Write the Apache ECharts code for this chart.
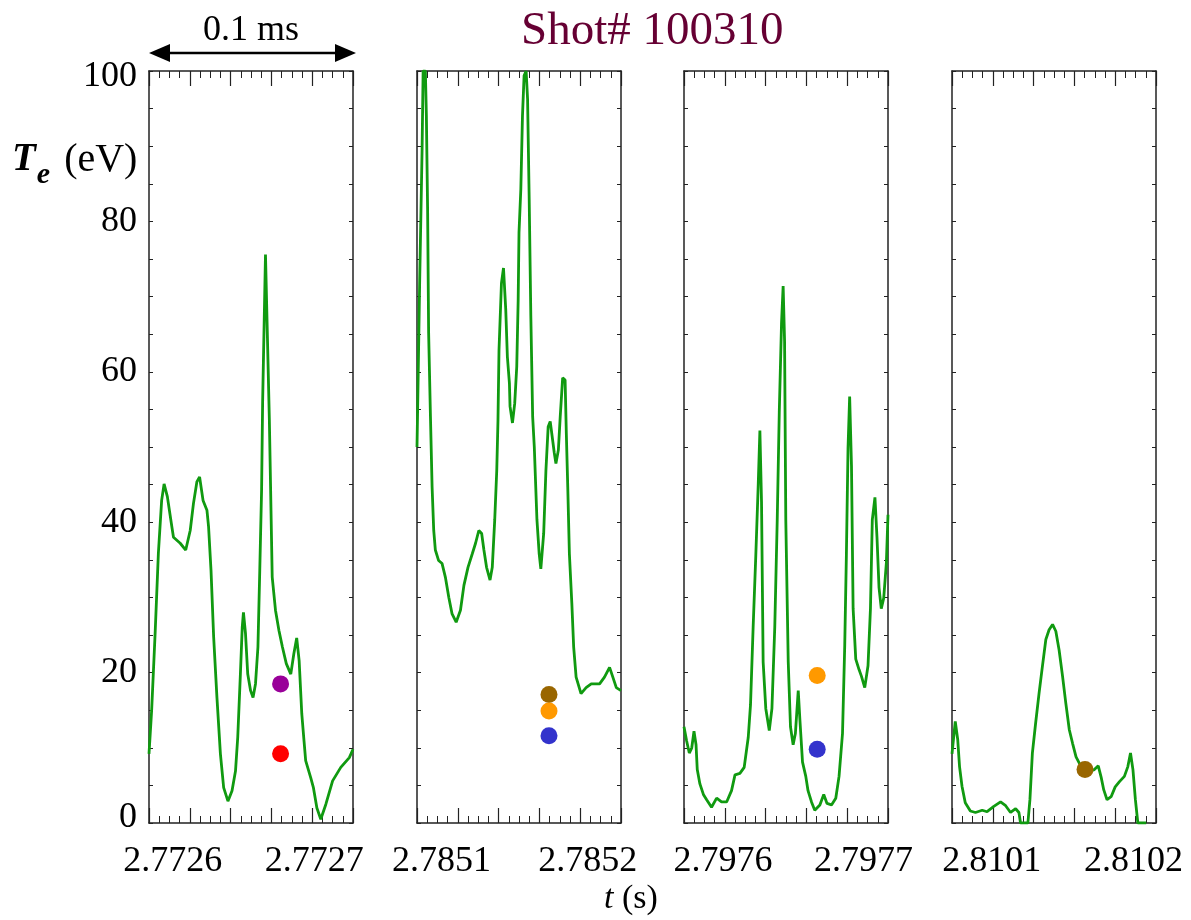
<!DOCTYPE html>
<html>
<head>
<meta charset="utf-8">
<script src="https://cdn.jsdelivr.net/npm/echarts@6/dist/echarts.min.js"></script>
<style>
  html, body { margin: 0; padding: 0; background: #fff; }
  #container { width: 1191px; height: 920px; }
</style>
</head>
<body>
<div id="container"></div>
<script>
// Te traces: time in µs from the start of each 0.1 ms window, Te in eV
const t1 = [0, 1.3, 3, 4.6, 6.2, 7.4, 9, 11.2, 12, 15.3, 18, 20.2, 21.8, 23.5, 24.8, 26.5, 28.4, 29.2, 30.4, 31.7, 33.3, 35, 36.6, 38.7, 40.7, 42.4, 43.5, 44.8, 45.7, 46.3, 47.3, 48.4, 49.8, 51, 52.2, 53.4, 54.3, 55.2, 55.7, 57.1, 59, 60.4, 62, 63.7, 65.4, 67.3, 69.5, 71, 72.4, 73.6, 74.9, 76, 76.8, 79.3, 80.6, 82.3, 84.2, 86.7, 90, 94, 98.2, 100];
const te1 = [9.2, 15, 25.2, 35.9, 42.9, 45.1, 43.4, 39.4, 38, 37.2, 36.3, 38.9, 42.5, 45.4, 46, 42.9, 41.6, 39.4, 33.6, 24.7, 16.7, 9.2, 4.7, 2.9, 4.3, 6.9, 11.4, 19.8, 26, 28, 25.2, 19.8, 17.6, 16.7, 18.5, 23.4, 33.6, 44.4, 56, 75.6, 53.6, 32.7, 28.3, 25.6, 23.4, 21.2, 19.8, 22.5, 24.6, 21.6, 14.5, 10.9, 8.3, 6, 4.7, 2, 0.5, 2.5, 5.6, 7.4, 8.7, 9.8];

const t2 = [0, 0.3, 1.3, 2.5, 3, 4.1, 4.6, 5.2, 5.7, 6.6, 7.4, 8.2, 9, 10.6, 12.3, 13.9, 15.6, 17.2, 19.2, 21.3, 23, 25, 27.1, 28.7, 30.3, 31.7, 32.8, 34.1, 35.8, 36.9, 38.1, 39.1, 39.7, 40.2, 41.4, 42.4, 43.5, 44.3, 45.3, 45.6, 46.8, 47.9, 48.9, 49.6, 50, 50.9, 51.7, 52.5, 53.5, 54.2, 55, 55.8, 56.7, 57.5, 58.8, 59.9, 60.7, 62.1, 63.2, 64.3, 65.3, 66.5, 67.3, 68.1, 69.3, 70.2, 71.4, 72.6, 73.2, 73.9, 74.7, 75.9, 76.8, 78, 80.4, 82.9, 85.4, 89.5, 91.9, 94.4, 96, 97.7, 100];
const te2 = [50, 54.9, 71.8, 89.6, 100, 100, 94, 81.6, 65.2, 54, 44.7, 38.9, 36.3, 34.9, 34.5, 32.7, 30, 27.8, 26.7, 28.3, 31.6, 34, 35.8, 37.2, 38.9, 38.5, 36.3, 34, 32.3, 34, 40.3, 46.9, 53.6, 62.9, 71.8, 73.8, 68.3, 62, 58.5, 55.4, 53.2, 55.8, 60.7, 69.6, 78.5, 84.3, 94, 99.4, 100, 96.3, 82.9, 67.4, 54, 50, 40.3, 35.8, 33.8, 38.5, 46.9, 52.7, 53.4, 50.9, 49.2, 47.8, 49.6, 54, 59.2, 58.9, 51.8, 44.7, 35.8, 29.2, 23.4, 19.4, 17.2, 18, 18.5, 18.5, 19.4, 20.7, 19.4, 18, 17.6];

const t3 = [0, 1.3, 2.6, 3.8, 4.9, 5.9, 6.5, 7.8, 9.5, 11.1, 13.5, 16, 18.4, 20.9, 23.3, 25, 27.4, 29.5, 31.5, 32.6, 33.9, 35.2, 36.4, 37.2, 38, 38.8, 40.1, 41.8, 43.1, 44.5, 45.7, 46.7, 47.8, 48.6, 49.3, 49.9, 51.1, 52.2, 53.5, 54.6, 56, 56.8, 58.1, 59.7, 60.8, 62.5, 64.1, 66.6, 68.5, 70.1, 72.3, 74.4, 76, 77.7, 78.8, 79.6, 80.4, 81.2, 82.1, 82.9, 84.2, 85.8, 87, 88.6, 90.2, 91.4, 92.3, 93.6, 94.6, 95.6, 96.7, 97.9, 99.2, 100];
const te3 = [12.8, 10.9, 9.3, 10, 12.2, 10.4, 7.1, 5.2, 3.8, 3.1, 2.1, 3.3, 2.8, 2.8, 4.3, 6.4, 6.6, 7.4, 11.4, 15.7, 26.1, 35.6, 45.1, 52.2, 42.7, 21.4, 15.2, 12.3, 15.2, 26.1, 40.3, 54.6, 66.4, 71.4, 64.1, 40.3, 21.4, 12.8, 10.4, 11.9, 17.6, 13.8, 8.1, 6.2, 4.3, 2.8, 1.7, 2.4, 3.8, 2.6, 2.4, 3.3, 6.2, 11.9, 23.7, 35.6, 49.8, 56.7, 47.5, 28.5, 21.8, 20.4, 19.5, 18, 20.9, 28.5, 40.3, 43.3, 38, 31.3, 28.5, 29.9, 34.6, 41];

const t4 = [0, 1.6, 2.8, 3.7, 4.9, 6.5, 9, 11.5, 14.8, 17.2, 20.5, 23.8, 26.3, 28.7, 31.2, 32.8, 33.6, 37.2, 38.2, 39.4, 41, 42.7, 44.3, 46, 47.6, 49.3, 50.9, 52.5, 54.2, 55.8, 57.5, 59.1, 60.8, 62.9, 66.5, 69.8, 71.7, 73.1, 74.4, 76, 78, 80, 82.1, 84.5, 86.2, 87.5, 88.7, 89.9, 91.1, 95.2];
const te4 = [9.2, 13.5, 11.1, 7.5, 4.9, 2.7, 1.6, 1.4, 1.7, 1.5, 2.2, 2.8, 2.3, 1.4, 1.9, 1.4, 0, 0, 3.1, 9.3, 13.3, 17.3, 20.8, 24.4, 25.7, 26.4, 25.5, 23, 19.5, 15.9, 12.4, 10.6, 8.8, 7.7, 6.8, 7.1, 7.6, 6.1, 4.4, 3.1, 3.5, 4.8, 5.5, 6.2, 7.5, 9.3, 7.1, 3.1, 0, 0];

// point measurements (other diagnostics), per window
const dotT = [[64.5, 64.5], [64.7, 64.7, 64.7], [65.3, 65.3], [65.2]];
const dotTe = [[18.5, 9.2], [17.1, 14.9, 11.6], [19.6, 9.8], [7.1]];
const dotChannel = [['purple', 'red'], ['brown', 'orange', 'blue'], ['orange', 'blue'], ['brown']];

const tickLabels = [['2.7726', '2.7727'], ['2.7851', '2.7852'], ['2.7976', '2.7977'], ['2.8101', '2.8102']];

const traces = [[t1, te1], [t2, te2], [t3, te3], [t4, te4]];

// layout / style
const serif = 'Liberation Serif';
const green = '#109a10';
const frame = '#222';
const channelColor = { purple: '#990099', red: '#ff0000', brown: '#996600', orange: '#ff9900', blue: '#3333cc' };
const gridLeft = [149, 417, 684, 952];
const labelAt = [[11.6, 81], [12, 83.7], [19.1, 88], [19.5, 89]];

const chart = echarts.init(document.getElementById('container'));

const grid = [], xAxis = [], yAxis = [], series = [];

gridLeft.forEach((left, i) => {
	grid.push({ left: left, top: 71, width: 204, height: 752, outerBoundsMode: 'none' });

	const xCommon = {
		gridIndex: i, type: 'value', min: 0, max: 100, interval: 20,
		axisLine: { show: true, onZero: false, lineStyle: { color: frame, width: 1.5 } },
		axisTick: { show: true, inside: true, length: 15, lineStyle: { color: frame, width: 1.2 } },
		minorTick: { show: true, splitNumber: 4, length: 7, lineStyle: { color: frame, width: 1 } },
		splitLine: { show: false },
	};
	xAxis.push(Object.assign({}, xCommon, {
		position: 'bottom',
		axisLabel: {
			show: true,
			customValues: labelAt[i],
			formatter: (v) => tickLabels[i][labelAt[i].indexOf(v)],
			fontFamily: serif, fontSize: 36, color: '#000', margin: 21,
		},
	}));
	xAxis.push(Object.assign({}, xCommon, { position: 'top', axisLabel: { show: false } }));

	const yCommon = {
		gridIndex: i, type: 'value', min: 0, max: 100, interval: 20,
		axisLine: { show: true, onZero: false, lineStyle: { color: frame, width: 1.5 } },
		axisTick: { show: true, inside: true, length: 4, lineStyle: { color: frame, width: 1 } },
		minorTick: { show: true, splitNumber: 4, length: 4, lineStyle: { color: frame, width: 1 } },
		splitLine: { show: false },
	};
	yAxis.push(Object.assign({}, yCommon, {
		position: 'left',
		axisLabel: {
			show: i === 0, fontFamily: serif, fontSize: 36, color: '#000', margin: 12,
			// end labels sit slightly inside the frame, as in the original
			formatter: (v) => v === 100 ? '{hi|' + v + '}' : v === 0 ? '{lo|' + v + '}' : String(v),
			rich: {
				hi: { fontFamily: serif, fontSize: 36, color: '#000', padding: [12, 0, 0, 0] },
				lo: { fontFamily: serif, fontSize: 36, color: '#000', padding: [0, 0, 10, 0] },
			},
		},
	}));
	yAxis.push(Object.assign({}, yCommon, { position: 'right', axisLabel: { show: false } }));

	const [ts, tes] = traces[i];
	series.push({
		type: 'line', xAxisIndex: 2 * i, yAxisIndex: 2 * i,
		data: ts.map((t, k) => [t, tes[k]]),
		showSymbol: false, symbol: 'none', clip: true,
		lineStyle: { color: green, width: 2.8 },
		z: 2,
	});
	series.push({
		type: 'scatter', xAxisIndex: 2 * i, yAxisIndex: 2 * i,
		symbolSize: 17,
		data: dotT[i].map((t, k) => ({ value: [t, dotTe[i][k]], itemStyle: { color: channelColor[dotChannel[i][k]], opacity: 1 } })),
		z: 3,
	});
});

chart.setOption({
	animation: false,
	backgroundColor: '#fff',
	title: {
		text: 'Shot# 100310', left: 521, top: 8, padding: 0,
		textStyle: { fontFamily: serif, fontSize: 47, fontWeight: 'normal', color: '#660033' },
	},
	grid, xAxis, yAxis, series,
});

// 0.1 ms scale arrow over the first panel, plus axis titles
const xa = chart.convertToPixel({ xAxisIndex: 0 }, 0);
const xb = chart.convertToPixel({ xAxisIndex: 0 }, 100);
const yTop = chart.convertToPixel({ yAxisIndex: 0 }, 100);
const ya = yTop - 18;
const head = 21, half = 9;

chart.setOption({
	graphic: [
		{ type: 'line', shape: { x1: xa + head - 2, y1: ya, x2: xb - head + 4, y2: ya }, style: { stroke: '#000', lineWidth: 2.3 } },
		{ type: 'polygon', shape: { points: [[xa, ya], [xa + head, ya - half], [xa + head, ya + half]] }, style: { fill: '#000' } },
		{ type: 'polygon', shape: { points: [[xb + 3, ya], [xb + 3 - head, ya - half], [xb + 3 - head, ya + half]] }, style: { fill: '#000' } },
		{ type: 'text', x: (xa + xb) / 2, y: ya - 4, style: { text: '0.1 ms', font: '36px "Liberation Serif"', fill: '#000', textAlign: 'center', textVerticalAlign: 'bottom' } },
		{
			type: 'text', left: 12, top: 140,
			style: {
				text: '{T|T}{e|e}{u| (eV)}',
				rich: {
					T: { fontFamily: serif, fontSize: 39, fontWeight: 'bold', fontStyle: 'italic', fill: '#000', lineHeight: 42, verticalAlign: 'top' },
					e: { fontFamily: serif, fontSize: 30, fontWeight: 'bold', fontStyle: 'italic', fill: '#000', lineHeight: 32, padding: [20, 4, 0, 1], verticalAlign: 'top' },
					u: { fontFamily: serif, fontSize: 40, fill: '#000', lineHeight: 42, verticalAlign: 'top' },
				},
			},
		},
		{
			type: 'text', left: 604, top: 882,
			style: {
				text: '{i|t}{u| (s)}',
				rich: {
					i: { fontFamily: serif, fontSize: 34, fontStyle: 'italic', fill: '#000' },
					u: { fontFamily: serif, fontSize: 34, fill: '#000' },
				},
			},
		},
	],
});
</script>
</body>
</html>
